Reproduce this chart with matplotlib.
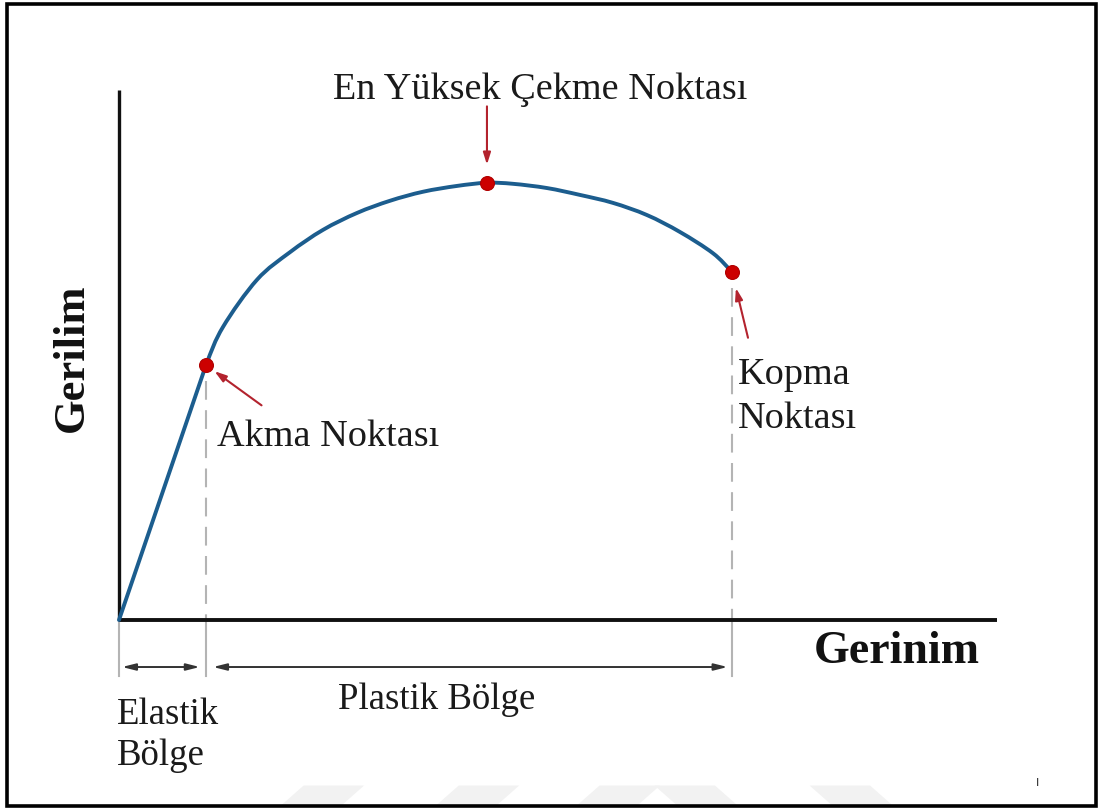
import numpy as np
import matplotlib.pyplot as plt
from matplotlib.patches import Rectangle, Polygon, PathPatch
from matplotlib.path import Path

plt.rcParams['font.family'] = ['Liberation Serif', 'DejaVu Serif']

# Stress-strain curve (normalised units)
strain_elastic = [0.0, 0.0991]
stress_elastic = [0.0, 0.481]

strain_plastic = [0.0991, 0.1185, 0.1572, 0.1948, 0.2323, 0.2711, 0.3087, 0.3462, 0.3850,
                  0.4191, 0.4487, 0.4875, 0.5251, 0.5626, 0.6014, 0.6390, 0.6765, 0.6982]
stress_plastic = [0.481, 0.553, 0.642, 0.694, 0.736, 0.768, 0.791, 0.808, 0.819,
                  0.825, 0.823, 0.815, 0.802, 0.787, 0.764, 0.732, 0.692, 0.657]

# Key points: yield, ultimate tensile, fracture
yield_pt = (0.0991, 0.481)
uts_pt = (0.4191, 0.825)
fracture_pt = (0.6982, 0.657)

BLUE = '#1c5d8e'
RED = '#cc0000'
ARROW_RED = '#b3232e'
GRAY = '#b4b4b4'


def smooth_path(xs, ys, prev=None):
    # Catmull-Rom through the points, written as cubic Bezier segments
    pts = np.column_stack([xs, ys]).astype(float)
    ext = np.vstack([prev if prev is not None else 2 * pts[0] - pts[1],
                     pts, 2 * pts[-1] - pts[-2]])
    verts = [pts[0]]
    codes = [Path.MOVETO]
    for i in range(1, len(ext) - 2):
        p0, p1, p2, p3 = ext[i - 1], ext[i], ext[i + 1], ext[i + 2]
        verts += [p1 + (p2 - p0) / 6, p2 - (p3 - p1) / 6, p2]
        codes += [Path.CURVE4] * 3
    return Path(verts, codes)


fig = plt.figure(figsize=(11, 8.09), dpi=100)
ax = fig.add_axes([0, 0, 1, 1])
ax.set_xlim(-0.1355, 1.1173)
ax.set_ylim(-0.3566, 1.1698)
ax.axis('off')

# outer frame
fig.patches.append(Rectangle((0.006, 0.004), 0.990, 0.991, transform=fig.transFigure,
                             fill=False, edgecolor='black', linewidth=2.6))

# faint background stripes along the bottom edge
for x0, lean in ((0.256, 1), (0.397, 1), (0.525, 1), (0.615, -1), (0.756, -1)):
    w, h, s = 0.055, 0.024, 0.02 * lean
    fig.patches.append(Polygon([(x0, 0.005), (x0 + w, 0.005), (x0 + w + s, 0.005 + h),
                                (x0 + s, 0.005 + h)], closed=True,
                               transform=fig.transFigure, facecolor='#f2f2f2',
                               edgecolor='none', zorder=0))

# axes lines
ax.plot([0, 0], [0, 1.0], color='#111111', lw=2.4, solid_capstyle='butt', zorder=3)
ax.plot([0, 1.0], [0, 0], color='#111111', lw=2.8, solid_capstyle='butt', zorder=3)

# guide lines: dashed above the axis, solid below
y_low = -0.105
ax.plot([0, 0], [y_low, 0], color=GRAY, lw=1.5, zorder=1)
for x_pt, y_pt in (yield_pt, fracture_pt):
    ax.plot([x_pt, x_pt], [y_pt - 0.03, 0], color=GRAY, lw=1.5,
            dashes=(9, 5), zorder=1)
    ax.plot([x_pt, x_pt], [y_low, 0], color=GRAY, lw=1.5, zorder=1)

# curve: straight elastic part, then the plastic part leaving with the same slope
elastic_dir = np.array(yield_pt) - np.array([strain_elastic[0], stress_elastic[0]])
lead_in = np.array(yield_pt) - 0.2 * elastic_dir
ax.plot(strain_elastic, stress_elastic, color=BLUE, lw=2.8, zorder=4, solid_capstyle='round')
ax.add_patch(PathPatch(smooth_path(strain_plastic, stress_plastic, prev=lead_in),
                       facecolor='none', edgecolor=BLUE, lw=2.8, zorder=4,
                       capstyle='round'))

# marked points
for pt in (yield_pt, uts_pt, fracture_pt):
    ax.plot(*pt, 'o', color=RED, markersize=10, markeredgecolor='#b00000',
            markeredgewidth=0.8, zorder=5)

# red pointer arrows
arrow_kw = dict(arrowstyle='-|>,head_length=0.7,head_width=0.22',
                color=ARROW_RED, lw=1.5, shrinkA=0)
ax.annotate('', xy=yield_pt, xytext=(40, -29), textcoords='offset points',
            arrowprops=dict(shrinkB=7.5, **arrow_kw))
ax.annotate('', xy=uts_pt, xytext=(0, 55), textcoords='offset points',
            arrowprops=dict(shrinkB=13, **arrow_kw))
ax.annotate('', xy=fracture_pt, xytext=(11.5, -47.5), textcoords='offset points',
            arrowprops=dict(shrinkB=12, **arrow_kw))

# region span arrows
span_y = -0.0887
span_kw = dict(arrowstyle='<|-|>,head_length=0.8,head_width=0.2', color='#333333',
               lw=1.4, shrinkA=0, shrinkB=0)
ax.annotate('', xy=(yield_pt[0] - 0.007, span_y), xytext=(0.0034, span_y),
            arrowprops=span_kw)
ax.annotate('', xy=(fracture_pt[0] - 0.005, span_y), xytext=(yield_pt[0] + 0.008, span_y),
            arrowprops=span_kw)

# labels
txt = dict(color='#1a1a1a', fontsize=27.5)
ax.text(0.4795, 1.0, 'En Yüksek Çekme Noktası', ha='center', va='center', **txt)
ax.text(0.1116, 0.3453, 'Akma Noktası', ha='left', va='center', **txt)
ax.text(0.705, 0.4215, 'Kopma\nNoktası', ha='left', va='center', linespacing=1.38, **txt)
ax.text(-0.0023, -0.2170, 'Elastik\nBölge', ha='left', va='center', linespacing=1.25,
        color='#1a1a1a', fontsize=26.5)
ax.text(0.3622, -0.151, 'Plastik Bölge', ha='center', va='center',
        color='#1a1a1a', fontsize=26.5)
ax.text(-0.0535, 0.494, 'Gerilim', ha='center', va='center', rotation=90,
        fontsize=32, fontweight='bold', color='#111111')
ax.text(0.886, -0.0604, 'Gerinim', ha='center', va='center',
        fontsize=33, fontweight='bold', color='#111111')
ax.text(1.0456, -0.3075, 'I', ha='center', va='center', fontsize=8,
        family='DejaVu Sans', color='#222222')

fig.savefig('out.png', dpi=100)
